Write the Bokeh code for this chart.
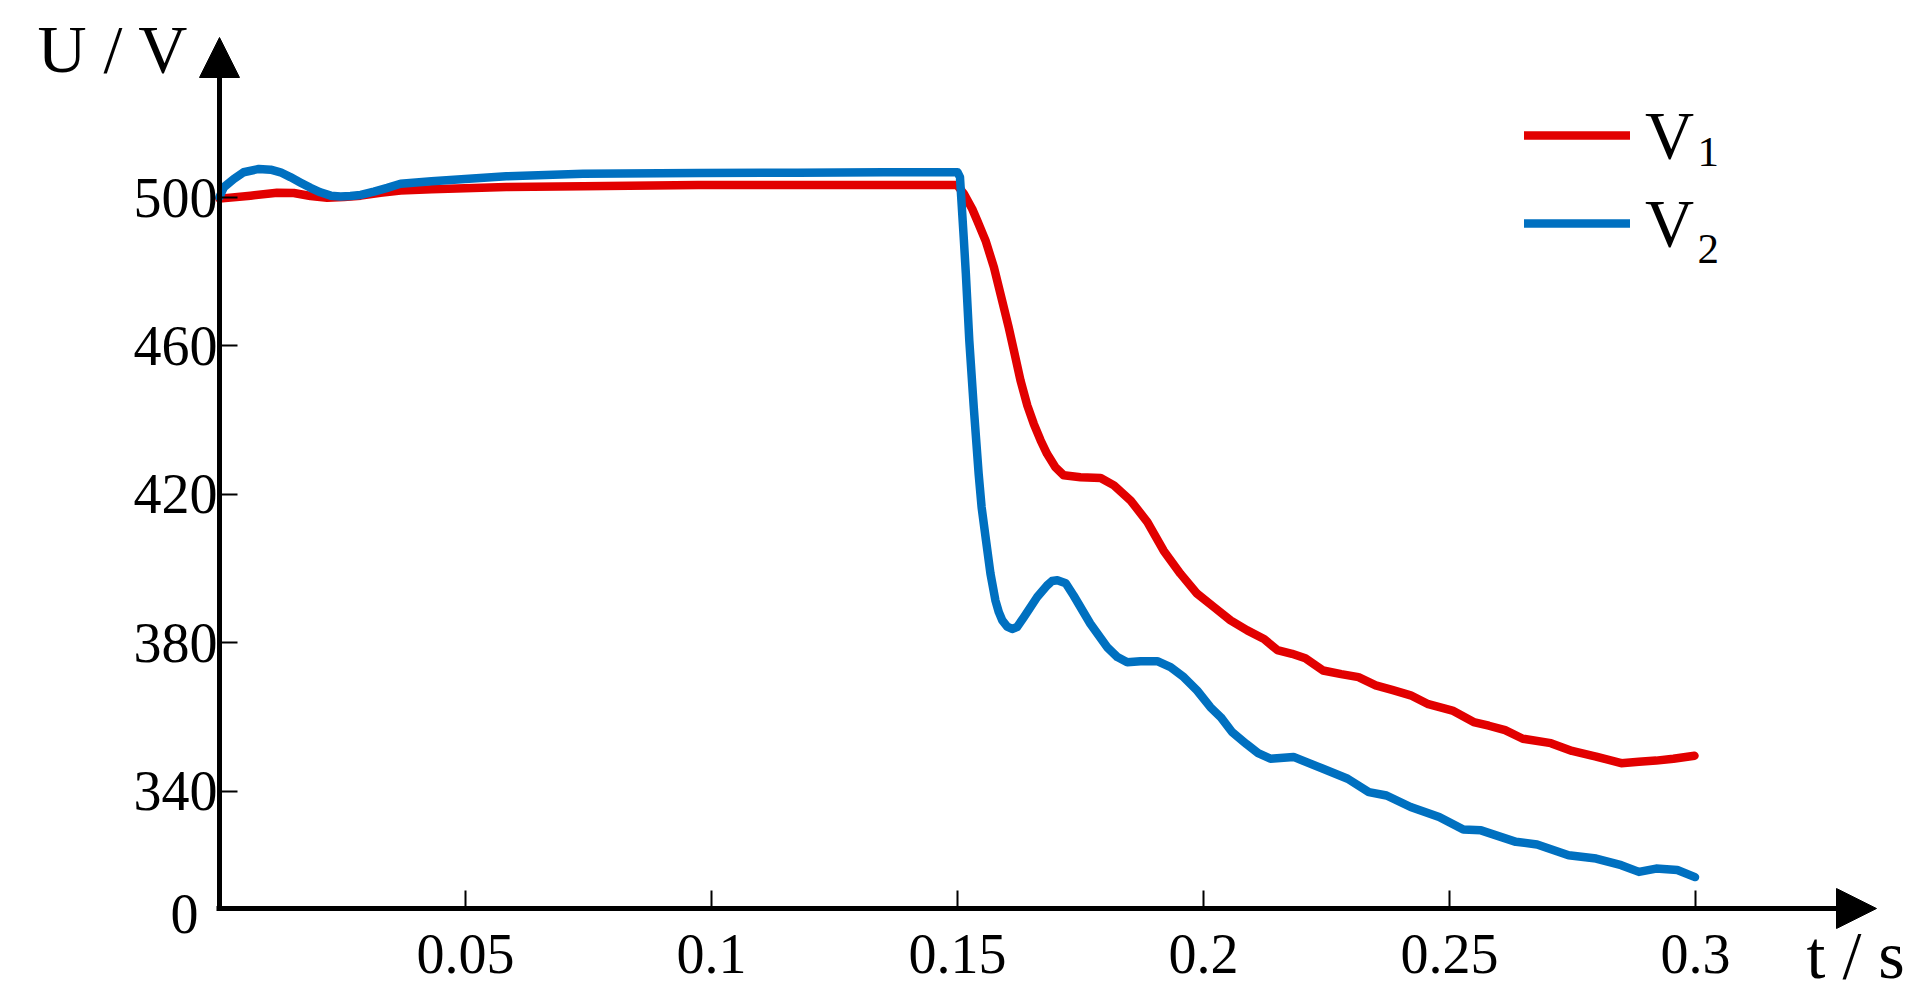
from bokeh.plotting import figure
from bokeh.models import Range1d, FixedTicker, Arrow, NormalHead, Label, Legend, LegendItem
from bokeh.embed import file_html
from bokeh.resources import INLINE

# ---------------- data ----------------
t1 = [0.0, 0.0063, 0.0117, 0.0151, 0.0185, 0.0219, 0.0253, 0.0287, 0.0327, 0.0368,
      0.0431, 0.0583, 0.0739, 0.0973, 0.1175, 0.135, 0.1499, 0.1513, 0.1530, 0.1540,
      0.1557, 0.1574, 0.1589, 0.1604, 0.1616, 0.1628, 0.1642, 0.1655, 0.1669, 0.1682,
      0.1699, 0.1716, 0.1750, 0.1791, 0.1818, 0.1852, 0.1886, 0.1919, 0.1953, 0.1987,
      0.2021, 0.2055, 0.2089, 0.2123, 0.2150, 0.2180, 0.2207, 0.2243, 0.2280, 0.2315,
      0.2350, 0.2385, 0.2421, 0.2457, 0.2506, 0.2549, 0.2580, 0.2613, 0.2649, 0.2706,
      0.2749, 0.2798, 0.2849, 0.2885, 0.2920, 0.2955, 0.2998]
v1 = [499.7, 500.5, 501.3, 501.2, 500.4, 499.9, 500.1, 500.5, 501.3, 501.9,
      502.2, 502.8, 503.0, 503.4, 503.4, 503.4, 503.4, 501.0, 496.9, 493.8,
      488.4, 481.2, 473.1, 465.0, 457.9, 450.7, 443.9, 439.0, 434.5, 430.9,
      427.3, 425.1, 424.6, 424.4, 422.4, 418.3, 412.5, 404.8, 398.6, 393.2,
      389.6, 386.0, 383.3, 381.0, 378.0, 377.0, 375.8, 372.5, 371.5, 370.7,
      368.5, 367.2, 365.8, 363.4, 361.7, 358.6, 357.6, 356.4, 354.1, 352.9,
      350.8, 349.3, 347.5, 347.9, 348.2, 348.7, 349.5]

t2 = [0.0, 0.0009, 0.0029, 0.0049, 0.0080, 0.0104, 0.0124, 0.0144, 0.0165, 0.0185,
      0.0205, 0.0226, 0.0246, 0.0266, 0.0287, 0.0314, 0.0341, 0.0368, 0.0431, 0.0583,
      0.0739, 0.0973, 0.1175, 0.135, 0.1500, 0.1505, 0.1513, 0.1517, 0.1524, 0.1533,
      0.1543, 0.1549, 0.1558, 0.1567, 0.1577, 0.1584, 0.1591, 0.1601, 0.1611, 0.1621,
      0.1635, 0.1662, 0.1682, 0.1692, 0.1703, 0.1720, 0.1736, 0.1770, 0.1804, 0.1825,
      0.1845, 0.1872, 0.1906, 0.1933, 0.1960, 0.1987, 0.2014, 0.2035, 0.2058, 0.2087,
      0.2111, 0.2136, 0.2183, 0.2243, 0.2293, 0.2336, 0.2372, 0.2421, 0.2479, 0.2528,
      0.2564, 0.2635, 0.2678, 0.2742, 0.2798, 0.2849, 0.2885, 0.2920, 0.2963, 0.2999]
v2 = [500.1, 502.8, 505.0, 506.8, 507.7, 507.5, 506.8, 505.5, 504.0, 502.6,
      501.4, 500.5, 500.3, 500.4, 500.7, 501.6, 502.6, 503.7, 504.4, 505.7,
      506.4, 506.6, 506.7, 506.8, 506.8, 505.5, 488.4, 479.4, 461.4, 443.5,
      425.5, 416.5, 407.5, 398.6, 391.4, 388.2, 386.0, 384.3, 383.7, 384.2,
      386.9, 392.3, 395.4, 396.6, 396.8, 396.0, 392.7, 385.1, 378.8, 376.1,
      374.7, 375.0, 375.0, 373.4, 370.7, 367.1, 362.6, 359.9, 355.9, 352.7,
      350.2, 348.7, 349.2, 346.0, 343.3, 339.7, 338.8, 335.7, 333.0, 329.6,
      329.4, 326.3, 325.6, 322.7, 321.8, 320.0, 318.2, 319.1, 318.7, 316.8]

x_ticks = [0.05, 0.1, 0.15, 0.2, 0.25, 0.3]
x_tick_labels = ["0.05", "0.1", "0.15", "0.2", "0.25", "0.3"]
y_ticks = [340, 380, 420, 460, 500]
y_tick_labels = ["340", "380", "420", "460", "500"]
y_bottom_label = "0"
series_names = ["V", "V"]
series_subs = ["1", "2"]
x_title = "t / s"
y_title = "U / V"

# ---------------- layout / style ----------------
RED = "#E20000"
BLUE = "#0070C0"
FONT = "Liberation Serif"
W, H = 1912, 995          # canvas; Bokeh's page template has no body margin
PAGE = 0
PX_X = 4920.0             # pixels per second
PX_Y = 3.7095             # pixels per volt
X0_PAGE = 219             # page x of t = 0
Y500_PAGE = 197           # page y of U = 500


def dx(px):
    return (px - X0_PAGE) / PX_X


def dy(py):
    return 500 - (py - Y500_PAGE) / PX_Y


X_START, X_END = dx(PAGE), dx(PAGE + W)
Y_END, Y_START = dy(PAGE), dy(PAGE + H)
Y_BOT = dy(908)           # where the time axis is drawn

p = figure(width=W, height=H, x_range=Range1d(X_START, X_END), y_range=Range1d(Y_START, Y_END),
           output_backend="svg", toolbar_location=None,
           min_border_left=0, min_border_right=0, min_border_top=0, min_border_bottom=0)
p.outline_line_color = None
p.grid.grid_line_color = None
p.background_fill_color = "white"
p.border_fill_color = "white"

for ax in (p.xaxis[0], p.yaxis[0]):
    ax.axis_line_color = None
    ax.major_tick_in = 18
    ax.major_tick_out = 0
    ax.major_tick_line_width = 2
    ax.major_tick_line_color = "black"
    ax.minor_tick_line_color = None
    ax.major_label_text_font = FONT
    ax.major_label_text_font_size = "56px"
    ax.major_label_text_color = "black"

p.xaxis.fixed_location = Y_BOT
p.yaxis.fixed_location = 0.0
p.xaxis.ticker = FixedTicker(ticks=x_ticks)
p.xaxis.major_label_overrides = dict(zip(x_ticks, x_tick_labels))
p.xaxis.major_label_standoff = 26
p.yaxis.ticker = FixedTicker(ticks=y_ticks)
p.yaxis.major_label_overrides = dict(zip(y_ticks, y_tick_labels))
p.yaxis.major_label_standoff = 2

r1 = p.line(t1, v1, line_color=RED, line_width=8.5, line_join="round", line_cap="round")
r2 = p.line(t2, v2, line_color=BLUE, line_width=8.5, line_join="round", line_cap="round")

# axes with arrow heads
p.add_layout(Arrow(x_start=dx(216), y_start=Y_BOT, x_end=dx(1876), y_end=Y_BOT,
                   line_width=5, line_color="black",
                   end=NormalHead(size=40, fill_color="black", line_color="black", line_width=1)))
p.add_layout(Arrow(x_start=0.0, y_start=dy(910.5), x_end=0.0, y_end=dy(37),
                   line_width=5, line_color="black",
                   end=NormalHead(size=40, fill_color="black", line_color="black", line_width=1)))

# label of the axes' crossing point
p.add_layout(Label(x=dx(198), y=dy(913), text=y_bottom_label,
                   text_font=FONT, text_font_size="56px", text_color="black",
                   text_align="right", text_baseline="middle"))

# axis titles (vertically centred on the capitals)
p.add_layout(Label(x=dx(37), y=dy(48.5), text=y_title,
                   text_font=FONT, text_font_size="68px", text_color="black",
                   text_align="left", text_baseline="middle"))
p.add_layout(Label(x=dx(1806), y=dy(954), text=x_title,
                   text_font=FONT, text_font_size="68px", text_color="black",
                   text_align="left", text_baseline="middle"))

# legend
legend = Legend(items=[LegendItem(label=series_names[0], renderers=[r1]),
                       LegendItem(label=series_names[1], renderers=[r2])],
                location=(1524, H - 267), orientation="vertical",
                glyph_width=106, glyph_height=88, label_height=88, spacing=0,
                padding=0, margin=0, label_standoff=15,
                label_text_font=FONT, label_text_font_size="68px", label_text_color="black",
                border_line_color=None, background_fill_alpha=0)
p.add_layout(legend)
for sub, mid in zip(series_subs, [151.5, 248.5]):
    p.add_layout(Label(x=dx(1697), y=dy(mid), text=sub,
                       text_font=FONT, text_font_size="43px", text_color="black",
                       text_align="left", text_baseline="middle"))

open("out.html", "w").write(file_html(p, INLINE))
